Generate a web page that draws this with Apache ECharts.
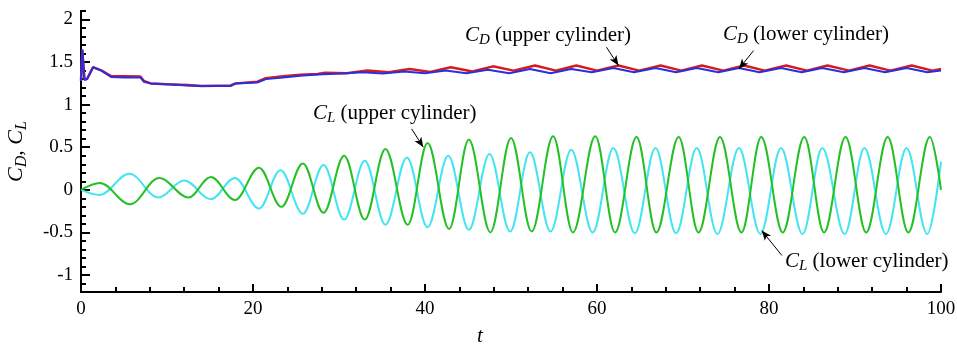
<!DOCTYPE html>
<html>
<head>
<meta charset="utf-8">
<title>Drag and lift coefficients</title>
<script src="https://cdn.jsdelivr.net/npm/echarts@6/dist/echarts.min.js"></script>
<style>
  html, body { margin: 0; padding: 0; background: #ffffff; }
  #chart { width: 957px; height: 345px; }
</style>
</head>
<body>
<div id="chart"></div>
<script>
// Time histories [t, value] of the force coefficients of the two cylinders.
const cdUpper = [
  [0, 1.28], [0.15, 1.64], [0.4, 1.30], [0.7, 1.30], [1.4, 1.44], [2.4, 1.40], [3.5, 1.335],
  [5.0, 1.335], [6.9, 1.33], [7.3, 1.28], [8.1, 1.25], [10.0, 1.24], [12.4, 1.23], [14.0, 1.22],
  [17.4, 1.225], [18.0, 1.25], [20.5, 1.27], [21.5, 1.31], [23.5, 1.335], [25.5, 1.35],
  [27.5, 1.36], [28.4, 1.375], [30.9, 1.37], [33.3, 1.40], [35.8, 1.38], [38.2, 1.42],
  [40.6, 1.385], [43.0, 1.44], [45.5, 1.39], [47.9, 1.45], [50.3, 1.40], [52.8, 1.46],
  [55.2, 1.40], [57.6, 1.46], [60.0, 1.40], [62.5, 1.46], [64.9, 1.40], [67.4, 1.46],
  [69.8, 1.40], [72.2, 1.46], [74.7, 1.40], [77.1, 1.46], [79.5, 1.40], [82.0, 1.46],
  [84.4, 1.40], [86.8, 1.46], [89.3, 1.40], [91.7, 1.46], [94.1, 1.40], [96.6, 1.46],
  [99.0, 1.40], [100, 1.42]
];
const cdLower = [
  [0, 1.28], [0.15, 1.65], [0.4, 1.29], [0.7, 1.30], [1.4, 1.44], [2.4, 1.40], [3.5, 1.325],
  [5.0, 1.32], [6.9, 1.32], [7.3, 1.27], [8.1, 1.25], [10.0, 1.24], [12.4, 1.225], [14.0, 1.22],
  [17.4, 1.22], [18.0, 1.25], [20.5, 1.26], [21.5, 1.30], [23.5, 1.32], [25.5, 1.34],
  [27.5, 1.355], [30.3, 1.365], [32.7, 1.38], [35.1, 1.365], [37.6, 1.39], [40.0, 1.37],
  [42.4, 1.40], [44.8, 1.37], [47.3, 1.41], [49.8, 1.37], [52.2, 1.42], [54.6, 1.37],
  [57.0, 1.42], [59.4, 1.38], [61.9, 1.43], [64.3, 1.38], [66.8, 1.43], [69.2, 1.38],
  [71.6, 1.43], [74.1, 1.38], [76.5, 1.43], [78.9, 1.38], [81.4, 1.43], [83.8, 1.38],
  [86.2, 1.43], [88.7, 1.38], [91.1, 1.43], [93.5, 1.38], [96.0, 1.43], [98.4, 1.38],
  [100, 1.40]
];
const clUpper = [
  [0, 0], [2.2, 0.08], [5.7, -0.17], [9.1, 0.14], [12.5, -0.09], [15.1, 0.15], [17.9, -0.12],
  [20.7, 0.26], [23.3, -0.20], [25.8, 0.31], [28.2, -0.27], [30.6, 0.40], [33.0, -0.35],
  [35.4, 0.48], [38.0, -0.41], [40.3, 0.55], [42.8, -0.46], [45.1, 0.59], [47.6, -0.50],
  [50.0, 0.61], [52.4, -0.49], [54.9, 0.63], [57.2, -0.50], [59.8, 0.63], [62.1, -0.50],
  [64.6, 0.62], [66.9, -0.50], [69.5, 0.62], [71.8, -0.50], [74.3, 0.62], [76.8, -0.50],
  [79.1, 0.62], [81.6, -0.50], [84.1, 0.62], [86.4, -0.50], [88.9, 0.62], [91.3, -0.50],
  [93.8, 0.62], [96.2, -0.50], [98.7, 0.62], [100, 0.0]
];
const clLower = [
  [0, 0], [2.2, -0.06], [5.6, 0.19], [9.0, -0.09], [12.0, 0.11], [15.1, -0.11], [17.9, 0.14],
  [20.7, -0.22], [23.2, 0.23], [25.8, -0.28], [28.2, 0.29], [30.6, -0.35], [33.0, 0.34],
  [35.4, -0.41], [37.9, 0.38], [40.3, -0.44], [42.7, 0.40], [45.1, -0.47], [47.5, 0.42],
  [49.9, -0.49], [52.2, 0.44], [54.6, -0.49], [57.0, 0.47], [59.5, -0.50], [61.9, 0.49],
  [64.4, -0.51], [66.8, 0.49], [69.2, -0.51], [71.6, 0.49], [74.0, -0.52], [76.5, 0.49],
  [79.0, -0.52], [81.4, 0.49], [83.9, -0.52], [86.2, 0.49], [88.8, -0.52], [91.1, 0.49],
  [93.6, -0.52], [96.0, 0.49], [98.4, -0.52], [100, 0.33]
];

// Labelled (major) ticks of the coefficient axis
const yMajorTicks = [-1, -0.5, 0, 0.5, 1, 1.5, 2];

// Annotation arrows, [tail, head] in (t, coefficient) units
const arrowCdUpper = [[61.1, 1.675], [62.5, 1.459]];
const arrowCdLower = [[78.2, 1.635], [76.5, 1.42]];
const arrowClUpper = [[38.45, 0.716], [39.8, 0.50]];
const arrowClLower = [[81.5, -0.771], [79.15, -0.478]];

const SERIF = '"Liberation Serif", "Times New Roman", serif';
const BLACK = '#000000';

const subRich = {
  c: { fontFamily: SERIF, fontStyle: 'italic', fontSize: 21, lineHeight: 24, color: BLACK },
  s: { fontFamily: SERIF, fontStyle: 'italic', fontSize: 15, lineHeight: 15, padding: [10, 0, 0, 0], color: BLACK },
  n: { fontFamily: SERIF, fontSize: 21, lineHeight: 24, color: BLACK }
};

function arrowMarks(pair) {
  return {
    silent: true,
    animation: false,
    symbol: ['none', 'arrow'],
    symbolSize: [6, 10],
    label: { show: false },
    lineStyle: { color: BLACK, width: 1, type: 'solid' },
    emphasis: { disabled: true },
    data: [[{ coord: pair[0] }, { coord: pair[1] }]]
  };
}

function noteText(x, y, sym, sub, rest) {
  return {
    type: 'text',
    x: x,
    y: y,
    silent: true,
    style: {
      text: '{c|' + sym + '}{s|' + sub + '}{n| ' + rest + '}',
      rich: subRich,
      align: 'left',
      verticalAlign: 'middle'
    }
  };
}

const chart = echarts.init(document.getElementById('chart'), null, { renderer: 'canvas' });

chart.setOption({
  animation: false,
  backgroundColor: '#ffffff',
  grid: { left: 81, right: 16, top: 11, bottom: 53, containLabel: false, outerBoundsMode: 'none' },
  xAxis: {
    type: 'value',
    min: 0,
    max: 100,
    interval: 20,
    axisLine: { show: true, onZero: false, lineStyle: { color: BLACK, width: 2 } },
    axisTick: { show: true, inside: true, length: 8, lineStyle: { color: BLACK, width: 2 } },
    minorTick: { show: true, splitNumber: 5, length: 5, lineStyle: { color: BLACK, width: 2 } },
    splitLine: { show: false },
    axisLabel: { color: BLACK, fontFamily: SERIF, fontSize: 19, margin: 8 }
  },
  yAxis: [
    {
      type: 'value',
      position: 'left',
      min: -1.2,
      max: 2.1,
      axisLine: { show: true, onZero: false, lineStyle: { color: BLACK, width: 2 } },
      axisTick: { show: true, inside: true, length: 9, customValues: yMajorTicks, lineStyle: { color: BLACK, width: 2 } },
      axisLabel: { color: BLACK, fontFamily: SERIF, fontSize: 19, margin: 8, customValues: yMajorTicks },
      splitLine: { show: false },
      name: '{c|C}{s|D}{n|, }{c|C}{s|L}',
      nameLocation: 'middle',
      nameGap: 52,
      nameTextStyle: {
        rich: {
          c: { fontFamily: SERIF, fontStyle: 'italic', fontSize: 22, lineHeight: 25, color: BLACK },
          s: { fontFamily: SERIF, fontStyle: 'italic', fontSize: 16, lineHeight: 16, padding: [10, 0, 0, 0], color: BLACK },
          n: { fontFamily: SERIF, fontSize: 22, lineHeight: 25, color: BLACK }
        }
      }
    },
    {
      // unlabelled minor ticks every 0.1
      type: 'value',
      position: 'left',
      offset: 0,
      min: -1.2,
      max: 2.1,
      interval: 0.1,
      axisLine: { show: true, onZero: false, lineStyle: { color: BLACK, width: 2 } },
      axisTick: { show: true, inside: true, length: 5, lineStyle: { color: BLACK, width: 2 } },
      axisLabel: { show: false },
      splitLine: { show: false }
    }
  ],
  series: [
    {
      name: 'CD upper',
      type: 'line',
      data: cdUpper,
      showSymbol: false,
      lineStyle: { color: '#d41c1c', width: 2.5 },
      itemStyle: { color: '#d41c1c' },
      markLine: arrowMarks(arrowCdUpper)
    },
    {
      name: 'CD lower',
      type: 'line',
      data: cdLower,
      showSymbol: false,
      lineStyle: { color: '#2b2de0', width: 2 },
      itemStyle: { color: '#2b2de0' },
      markLine: arrowMarks(arrowCdLower)
    },
    {
      name: 'CL lower',
      type: 'line',
      data: clLower,
      showSymbol: false,
      smooth: 0.36,
      smoothMonotone: 'x',
      lineStyle: { color: '#44e4f0', width: 2 },
      itemStyle: { color: '#44e4f0' },
      markLine: arrowMarks(arrowClLower)
    },
    {
      name: 'CL upper',
      type: 'line',
      data: clUpper,
      showSymbol: false,
      smooth: 0.36,
      smoothMonotone: 'x',
      lineStyle: { color: '#25c025', width: 2 },
      itemStyle: { color: '#25c025' },
      markLine: arrowMarks(arrowClUpper)
    }
  ],
  graphic: [
    noteText(465, 35, 'C', 'D', '(upper cylinder)'),
    noteText(723, 34, 'C', 'D', '(lower cylinder)'),
    noteText(313, 113, 'C', 'L', '(upper cylinder)'),
    noteText(785, 261, 'C', 'L', '(lower cylinder)'),
    {
      type: 'text',
      x: 480,
      y: 336,
      silent: true,
      style: {
        text: 't',
        font: 'italic 21px ' + SERIF,
        fill: BLACK,
        align: 'center',
        verticalAlign: 'middle'
      }
    }
  ]
});
</script>
</body>
</html>
